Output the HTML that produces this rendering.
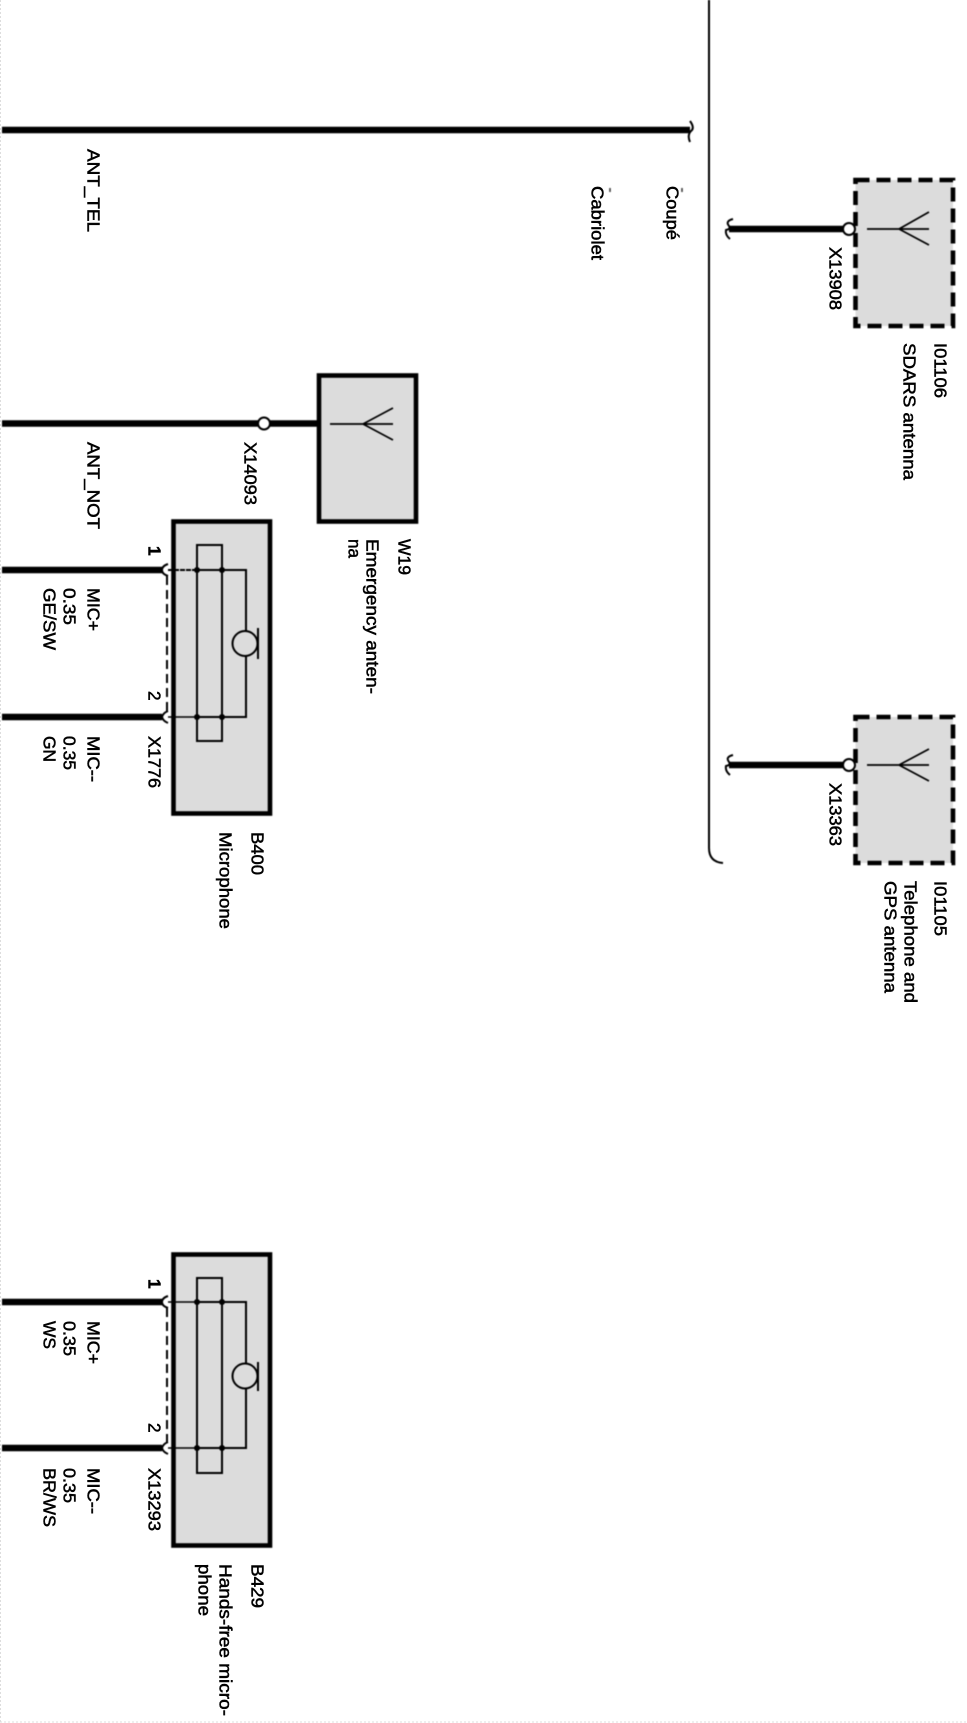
<!DOCTYPE html>
<html><head><meta charset="utf-8"><title>Diagram</title>
<style>
html,body{margin:0;padding:0;background:#fff}
svg{display:block}
text{font-family:"Liberation Sans",sans-serif;font-size:17.2px;fill:#000;stroke:#000;stroke-width:.5}
.w{stroke:#000;stroke-width:6.5;fill:none}
.t{stroke:#000;stroke-width:2;fill:none}
.box{fill:#dcdcdc;stroke:#000;stroke-width:4.6}
.dbox{fill:#dcdcdc;stroke:#000;stroke-width:4.6;stroke-dasharray:14 7}
.c{fill:#fff;stroke:#000;stroke-width:2}
</style></head>
<body>
<svg width="967" height="1723" viewBox="0 0 967 1723" xmlns="http://www.w3.org/2000/svg">
<rect width="967" height="1723" fill="#fff"/>
<path d="M0.5 0V1723" stroke="#ddd" stroke-width="1" stroke-dasharray="2 2"/>
<path d="M0 1722H967" stroke="#ddd" stroke-width="1" stroke-dasharray="2 2"/>
<g style="filter:blur(.4px)">
<path class="t" d="M709 0V848Q709 862 723 863"/>
<path class="w" d="M2 130H690"/>
<path class="t" d="M690 121Q695 128 691 131Q687 135 690 142"/>

<!-- I01106 -->
<rect class="dbox" x="855.5" y="180" width="97.5" height="146"/>
<path class="w" d="M729 229H844"/>
<path class="t" d="M733 219Q725 221 729 226Q731 229 726 230Q725 235 730 239"/>
<circle class="c" cx="849" cy="229" r="6"/>
<path class="t" style="stroke-width:1.7" d="M867 229H929M929 212L899 229L929 245"/>

<!-- I01105 -->
<rect class="dbox" x="855.5" y="717" width="97.5" height="146"/>
<path class="w" d="M729 765H844"/>
<path class="t" d="M733 755Q725 757 729 762Q731 765 726 766Q725 771 730 775"/>
<circle class="c" cx="849" cy="765" r="6"/>
<path class="t" style="stroke-width:1.7" d="M867 765H929M929 749L899 765L929 781"/>

<!-- W19 -->
<rect class="box" x="319" y="375.5" width="97" height="146"/>
<path class="w" d="M2 423.5H318"/>
<circle class="c" cx="264" cy="423.5" r="6"/>
<path class="t" style="stroke-width:1.7" d="M330 424H393M393 408L363 424L393 440"/>

<!-- B400 -->
<rect class="box" x="173.5" y="521.5" width="96.5" height="292"/>
<path class="w" d="M2 570H162M2 717H162"/>
<path class="t" d="M168 564Q162 566 162 570Q162 574 168 576"/>
<path class="t" d="M168 711Q163 713 162 717Q163 721 168 723"/>
<path class="t" d="M167 576V711" stroke-dasharray="9 5"/>
<path class="t" d="M168 570H197" stroke-dasharray="5 1"/>
<path class="t" style="stroke-width:1.5" d="M168 717H197"/>
<rect x="197" y="545" width="25" height="196" fill="none" stroke="#000" stroke-width="2"/>
<path class="t" d="M197 570H246V717H197"/>
<circle cx="197" cy="570" r="3"/><circle cx="222" cy="570" r="3"/>
<circle cx="197" cy="717" r="3"/><circle cx="222" cy="717" r="3"/>
<circle cx="245" cy="643.5" r="12.5" fill="#dcdcdc" stroke="#000" stroke-width="2"/>
<path class="t" d="M258 628V659"/>

<!-- B429 -->
<rect class="box" x="173.5" y="1254.5" width="96.5" height="291"/>
<path class="w" d="M2 1302H162M2 1448H162"/>
<path class="t" d="M168 1296Q162 1298 162 1302Q162 1306 168 1308"/>
<path class="t" d="M168 1442Q163 1444 162 1448Q163 1452 168 1454"/>
<path class="t" d="M167 1308V1442" stroke-dasharray="9 5"/>
<path class="t" style="stroke-width:1.5" d="M168 1302H197M168 1448H197"/>
<rect x="197" y="1278" width="25" height="195" fill="none" stroke="#000" stroke-width="2"/>
<path class="t" d="M197 1302H246V1448H197"/>
<circle cx="197" cy="1302" r="3"/><circle cx="222" cy="1302" r="3"/>
<circle cx="197" cy="1448" r="3"/><circle cx="222" cy="1448" r="3"/>
<circle cx="245" cy="1376" r="12.5" fill="#dcdcdc" stroke="#000" stroke-width="2"/>
<path class="t" d="M258 1362V1391"/>

<!-- small marks -->
<path d="M682 188V192M610 188V192" stroke="#333" stroke-width="1.5"/>
</g>

<g style="filter:blur(.35px)" transform="translate(1.5,1)">
<text transform="translate(86,148) rotate(90)" textLength="83" lengthAdjust="spacingAndGlyphs">ANT_TEL</text>
<text transform="translate(590,185) rotate(90)" textLength="74" lengthAdjust="spacingAndGlyphs">Cabriolet</text>
<text transform="translate(665,185) rotate(90)" textLength="54" lengthAdjust="spacingAndGlyphs">Coupé</text>
<text transform="translate(828,246) rotate(90)" textLength="63" lengthAdjust="spacingAndGlyphs">X13908</text>
<text transform="translate(933,342) rotate(90)" textLength="55" lengthAdjust="spacingAndGlyphs">I01106</text>
<text transform="translate(902,342) rotate(90)" textLength="137" lengthAdjust="spacingAndGlyphs">SDARS antenna</text>
<text transform="translate(828,782) rotate(90)" textLength="63" lengthAdjust="spacingAndGlyphs">X13363</text>
<text transform="translate(933,880) rotate(90)" textLength="55" lengthAdjust="spacingAndGlyphs">I01105</text>
<text transform="translate(903,880) rotate(90)" textLength="122" lengthAdjust="spacingAndGlyphs">Telephone and</text>
<text transform="translate(883,880) rotate(90)" textLength="112" lengthAdjust="spacingAndGlyphs">GPS antenna</text>
<text transform="translate(243,441) rotate(90)" textLength="63" lengthAdjust="spacingAndGlyphs">X14093</text>
<text transform="translate(86,441) rotate(90)" textLength="87" lengthAdjust="spacingAndGlyphs">ANT_NOT</text>
<text transform="translate(397,538) rotate(90)" textLength="36" lengthAdjust="spacingAndGlyphs">W19</text>
<text transform="translate(365,538) rotate(90)" textLength="155" lengthAdjust="spacingAndGlyphs">Emergency anten-</text>
<text transform="translate(347,538) rotate(90)" textLength="19" lengthAdjust="spacingAndGlyphs">na</text>

<text transform="translate(147,545) rotate(90)" font-weight="bold">1</text>
<text transform="translate(147,690) rotate(90)">2</text>
<text transform="translate(86,587) rotate(90)" textLength="43" lengthAdjust="spacingAndGlyphs">MIC+</text>
<text transform="translate(62,587) rotate(90)" textLength="37" lengthAdjust="spacingAndGlyphs">0.35</text>
<text transform="translate(42,587) rotate(90)" textLength="62" lengthAdjust="spacingAndGlyphs">GE/SW</text>
<text transform="translate(86,735) rotate(90)" textLength="46" lengthAdjust="spacingAndGlyphs">MIC--</text>
<text transform="translate(62,735) rotate(90)" textLength="34" lengthAdjust="spacingAndGlyphs">0.35</text>
<text transform="translate(42,735) rotate(90)" textLength="26" lengthAdjust="spacingAndGlyphs">GN</text>
<text transform="translate(147,735) rotate(90)" textLength="52" lengthAdjust="spacingAndGlyphs">X1776</text>
<text transform="translate(250,831) rotate(90)" textLength="43" lengthAdjust="spacingAndGlyphs">B400</text>
<text transform="translate(218,831) rotate(90)" textLength="97" lengthAdjust="spacingAndGlyphs">Microphone</text>

<text transform="translate(147,1278) rotate(90)" font-weight="bold">1</text>
<text transform="translate(147,1422) rotate(90)">2</text>
<text transform="translate(86,1320) rotate(90)" textLength="43" lengthAdjust="spacingAndGlyphs">MIC+</text>
<text transform="translate(62,1320) rotate(90)" textLength="35" lengthAdjust="spacingAndGlyphs">0.35</text>
<text transform="translate(42,1320) rotate(90)" textLength="28" lengthAdjust="spacingAndGlyphs">WS</text>
<text transform="translate(86,1467) rotate(90)" textLength="46" lengthAdjust="spacingAndGlyphs">MIC--</text>
<text transform="translate(62,1467) rotate(90)" textLength="35" lengthAdjust="spacingAndGlyphs">0.35</text>
<text transform="translate(42,1467) rotate(90)" textLength="59" lengthAdjust="spacingAndGlyphs">BR/WS</text>
<text transform="translate(147,1467) rotate(90)" textLength="63" lengthAdjust="spacingAndGlyphs">X13293</text>
<text transform="translate(250,1563) rotate(90)" textLength="44" lengthAdjust="spacingAndGlyphs">B429</text>
<text transform="translate(218,1563) rotate(90)" textLength="152" lengthAdjust="spacingAndGlyphs">Hands-free micro-</text>
<text transform="translate(197,1563) rotate(90)" textLength="52" lengthAdjust="spacingAndGlyphs">phone</text>
</g>
</svg>
</body></html>
